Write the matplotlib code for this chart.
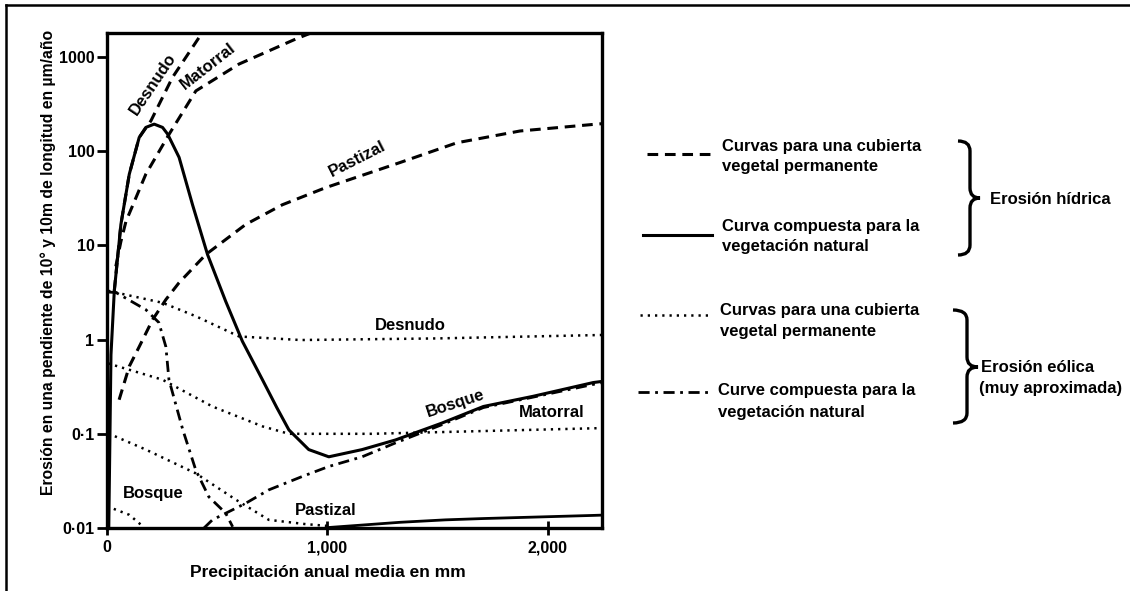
import numpy as np
import matplotlib
matplotlib.use("Agg")
import matplotlib.pyplot as plt
from matplotlib.lines import Line2D
from matplotlib.path import Path
from matplotlib.patches import PathPatch
from matplotlib.ticker import NullLocator

plt.rcParams['font.family'] = ['Liberation Sans', 'DejaVu Sans']
plt.rcParams['font.weight'] = 'bold'

# Erosión hídrica - curvas para una cubierta vegetal permanente (trazos)
desnudo_h_x = [33, 63, 101, 146, 199, 297, 418, 470]
desnudo_h_y = [3.3, 16.7, 57, 140, 210, 608, 1620, 2400]
matorral_h_x = [40, 63, 86, 131, 176, 282, 403, 599, 855, 950]
matorral_h_y = [6, 11, 18, 32, 57, 152, 437, 843, 1550, 1900]
pastizal_h_x = [55, 101, 146, 207, 267, 326, 448, 629, 795, 991, 1330, 1587, 1873, 2220, 2245]
pastizal_h_y = [0.23, 0.52, 0.84, 1.63, 2.66, 4.0, 8.0, 16.7, 27, 41, 76, 123, 164, 194, 196]
bosque_h_x = [440, 478, 629, 734, 885, 1006, 1157, 1308, 1519, 1707, 1932, 2245]
bosque_h_y = [0.01, 0.0122, 0.0183, 0.0254, 0.0352, 0.045, 0.057, 0.080, 0.125, 0.19, 0.245, 0.35]

# Erosión hídrica - curva compuesta (continua)
comp_h_x = [8, 18, 33, 63, 101, 146, 176, 214, 252, 275, 327, 388, 456, 538, 614, 705,
            770, 825, 915, 1006, 1157, 1308, 1519, 1707, 1932, 2205, 2245]
comp_h_y = [0.01, 0.69, 3.26, 16.7, 57, 140, 179, 194, 179, 152, 86, 27, 8.0, 2.56, 0.96, 0.375,
            0.19, 0.11, 0.068, 0.057, 0.068, 0.086, 0.13, 0.195, 0.25, 0.35, 0.36]

# Erosión eólica - curvas para una cubierta vegetal permanente (puntos)
desnudo_e_x = [5, 41, 252, 403, 599, 878, 1500, 2245]
desnudo_e_y = [3.3, 3.16, 2.46, 1.77, 1.08, 0.99, 1.03, 1.12]
matorral_e_x = [5, 26, 252, 478, 705, 825, 1200, 2245]
matorral_e_y = [0.56, 0.54, 0.375, 0.195, 0.12, 0.1, 0.1, 0.115]
pastizal_e_x = [5, 10, 176, 403, 584, 734, 900, 1005]
pastizal_e_y = [0.1, 0.1, 0.068, 0.038, 0.020, 0.0122, 0.011, 0.0105]
bosque_e_x = [0, 101, 165]
bosque_e_y = [0.017, 0.0138, 0.0103]

# Erosión eólica - curva compuesta (trazo y punto)
comp_e_x = [5, 41, 176, 235, 267, 281, 344, 403, 462, 538, 570]
comp_e_y = [3.2, 3.16, 2.08, 1.52, 0.84, 0.375, 0.11, 0.041, 0.0214, 0.0144, 0.0103]

# linea casi sobre el eje inferior
base_x = [1000, 1330, 1534, 1706, 2204, 2245]
base_y = [0.0101, 0.0115, 0.0122, 0.0126, 0.0136, 0.0137]

yticks = [0.01, 0.1, 1, 10, 100, 1000]
ytick_labels = ['0·01', '0·1', '1', '10', '100', '1000']
xticks = [0, 1000, 2000]
xtick_labels = ['0', '1,000', '2,000']

W, H = 1130, 591


def fx(px):
    return px / W


def fy(py):
    return 1 - py / H


DASHED = (0, (3.5, 2.2))
DOTTED = (0, (0.9, 2.0))
DASHDOT = (0, (4, 2, 1, 2))

fig = plt.figure(figsize=(W / 100, H / 100), dpi=100)
ax = fig.add_axes([fx(107), fy(528), (602 - 107) / W, (528 - 33) / H])

ax.plot(desnudo_h_x, desnudo_h_y, color='black', lw=2.2, ls=DASHED)
ax.plot(matorral_h_x, matorral_h_y, color='black', lw=2.2, ls=DASHED)
ax.plot(pastizal_h_x, pastizal_h_y, color='black', lw=2.2, ls=DASHED)
ax.plot(bosque_h_x, bosque_h_y, color='black', lw=2.0, ls=DASHDOT)
ax.plot(comp_h_x, comp_h_y, color='black', lw=2.2)

ax.plot(desnudo_e_x, desnudo_e_y, color='black', lw=1.8, ls=DOTTED)
ax.plot(matorral_e_x, matorral_e_y, color='black', lw=1.8, ls=DOTTED)
ax.plot(pastizal_e_x, pastizal_e_y, color='black', lw=1.8, ls=DOTTED)
ax.plot(bosque_e_x, bosque_e_y, color='black', lw=1.8, ls=DOTTED)
ax.plot(comp_e_x, comp_e_y, color='black', lw=2.0, ls=DASHDOT)
ax.plot(base_x, base_y, color='black', lw=2.0)

ax.set_yscale('log')
ax.set_xlim(0, 2245)
ax.set_ylim(0.01, 1800)
ax.set_yticks(yticks)
ax.set_yticklabels(ytick_labels)
ax.yaxis.set_minor_locator(NullLocator())
ax.set_xticks(xticks)
ax.set_xticklabels(xtick_labels)
ax.tick_params(axis='y', direction='out', length=7, width=2, labelsize=11.5, pad=2)
ax.tick_params(axis='x', direction='inout', length=10, width=2, labelsize=11.5, pad=4)
for s in ax.spines.values():
    s.set_linewidth(2.4)

# etiquetas de las curvas
lab = dict(fontsize=12, ha='center', va='center', rotation_mode='anchor')
ax.text(207, 516, 'Desnudo', rotation=56, **lab)
ax.text(457, 802, 'Matorral', rotation=38, **lab)
ax.text(1136, 82, 'Pastizal', rotation=27, **lab)
ax.text(1376, 1.41, 'Desnudo', rotation=0, **lab)
ax.text(1579, 0.21, 'Bosque', rotation=18, **lab)
ax.text(2018, 0.167, 'Matorral', rotation=0, **lab)
ax.text(208, 0.023, 'Bosque', rotation=0, **lab)
ax.text(991, 0.0155, 'Pastizal', rotation=0, **lab)

fig.text(fx(48), fy(262), 'Erosión en una pendiente de 10° y 10m de longitud en µm/año',
         rotation=90, ha='center', va='center', fontsize=11.3)
fig.text(fx(328), fy(572), 'Precipitación anual media en mm', ha='center', va='center', fontsize=12.5)

# leyenda
samples = [(647, 713, 154, DASHED, 2.2), (643, 712, 235, '-', 2.2),
           (640, 710, 315, DOTTED, 1.8), (638, 708, 392, DASHDOT, 2.0)]
for x0, x1, y, ls, lw in samples:
    fig.add_artist(Line2D([fx(x0), fx(x1)], [fy(y), fy(y)], color='black', lw=lw, ls=ls))

texts = [(722, 146, 'Curvas para una cubierta'), (722, 166, 'vegetal permanente'),
         (722, 226, 'Curva compuesta para la'), (722, 247, 'vegetación natural'),
         (720, 311, 'Curvas para una cubierta'), (720, 332, 'vegetal permanente'),
         (718, 391, 'Curve compuesta para la'), (718, 413, 'vegetación natural'),
         (990, 199, 'Erosión hídrica'), (981, 367, 'Erosión eólica'),
         (979, 388, '(muy aproximada)')]
for x, y, t in texts:
    fig.text(fx(x), fy(y), t, ha='left', va='center', fontsize=12)


def brace(xl, xm, xt, yt, yc, yb, r=10):
    pts = [(xl, yt), (xm, yt), (xm, yt + r), (xm, yc - r), (xm, yc), (xt, yc),
           (xm, yc), (xm, yc + r), (xm, yb - r), (xm, yb), (xl, yb)]
    codes = [Path.MOVETO, Path.CURVE3, Path.CURVE3, Path.LINETO, Path.CURVE3, Path.CURVE3,
             Path.CURVE3, Path.CURVE3, Path.LINETO, Path.CURVE3, Path.CURVE3]
    verts = [(fx(a), fy(b)) for a, b in pts]
    fig.add_artist(PathPatch(Path(verts, codes), fill=False, lw=2.4, color='black',
                             transform=fig.transFigure))


brace(958, 970, 980, 141, 198, 255)
brace(953, 967, 978, 310, 367, 423)

# marco exterior
fig.add_artist(Line2D([fx(6), fx(6)], [fy(5), fy(591)], color='black', lw=1.8))
fig.add_artist(Line2D([fx(6), fx(1130)], [fy(5), fy(5)], color='black', lw=1.8))

fig.savefig('out.png', dpi=100)
